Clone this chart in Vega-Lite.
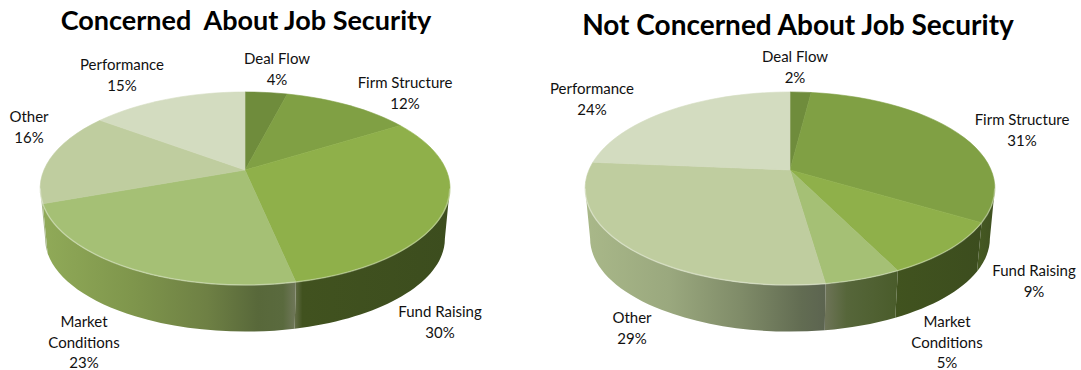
{
  "$schema": "https://vega.github.io/schema/vega-lite/v6.json",
  "width": 1081,
  "height": 370,
  "padding": 0,
  "autosize": {"type": "none"},
  "background": "white",
  "config": {"view": {"stroke": null}},
  "data": {"values": [
    {"view": "Concerned\u00a0 About Job Security", "category": "Deal Flow", "order": 1, "value": 4},
    {"view": "Concerned\u00a0 About Job Security", "category": "Firm Structure", "order": 2, "value": 12},
    {"view": "Concerned\u00a0 About Job Security", "category": "Fund Raising", "order": 3, "value": 30},
    {"view": "Concerned\u00a0 About Job Security", "category": "Market Conditions", "order": 4, "value": 23},
    {"view": "Concerned\u00a0 About Job Security", "category": "Other", "order": 5, "value": 16},
    {"view": "Concerned\u00a0 About Job Security", "category": "Performance", "order": 6, "value": 15},
    {"view": "Not Concerned About Job Security", "category": "Deal Flow", "order": 1, "value": 2},
    {"view": "Not Concerned About Job Security", "category": "Firm Structure", "order": 2, "value": 31},
    {"view": "Not Concerned About Job Security", "category": "Fund Raising", "order": 3, "value": 9},
    {"view": "Not Concerned About Job Security", "category": "Market Conditions", "order": 4, "value": 5},
    {"view": "Not Concerned About Job Security", "category": "Other", "order": 5, "value": 29},
    {"view": "Not Concerned About Job Security", "category": "Performance", "order": 6, "value": 24}
  ]},
  "transform": [
    {"window": [{"op": "sum", "field": "value", "as": "cum"}], "groupby": ["view"], "sort": [{"field": "order"}]},
    {"calculate": "slice(datum.view, 0, 3) + ':' + datum.category", "as": "key"},
    {"calculate": "replace(datum.category, 'Market ', 'Market\\n') + '\\n' + datum.value + '%'", "as": "label"},
    {"calculate": "(datum.cum - datum.value) * PI / 50", "as": "a0"},
    {"calculate": "datum.cum * PI / 50", "as": "a1"},
    {"calculate": "datum.a0 + 0.045 * pow(sin(datum.a0 / 2), 2)", "as": "t0"},
    {"calculate": "datum.a1 + 0.045 * pow(sin(datum.a1 / 2), 2)", "as": "t1"},
    {"calculate": "round(20100 * sin(datum.t0) / (1 + 0.192 * cos(datum.t0))) / 100 + ',' + round(-9300 * cos(datum.t0) / (1 + 0.192 * cos(datum.t0))) / 100", "as": "p0"},
    {"calculate": "round(20100 * sin(datum.t1) / (1 + 0.192 * cos(datum.t1))) / 100 + ',' + round(-9300 * cos(datum.t1) / (1 + 0.192 * cos(datum.t1))) / 100", "as": "p1"},
    {"calculate": "'M0,0L' + datum.p0 + 'A205,96.5 0 0 1 ' + datum.p1 + 'Z'", "as": "wedge"},
    {"calculate": "max(datum.t0, 1.7637)", "as": "fa"},
    {"calculate": "min(datum.t1, 4.5195)", "as": "fb"},
    {"calculate": "round(20100 * sin(datum.fa) / (1 + 0.192 * cos(datum.fa))) / 100", "as": "ax"},
    {"calculate": "round(-9300 * cos(datum.fa) / (1 + 0.192 * cos(datum.fa))) / 100", "as": "ay"},
    {"calculate": "round(20100 * sin(datum.fb) / (1 + 0.192 * cos(datum.fb))) / 100", "as": "bx"},
    {"calculate": "round(-9300 * cos(datum.fb) / (1 + 0.192 * cos(datum.fb))) / 100", "as": "by"},
    {"calculate": "'M' + datum.ax + ',' + datum.ay + 'A205,96.5 0 0 1 ' + datum.bx + ',' + datum.by", "as": "rim"},
    {"calculate": "datum.rim + 'L' + round(97.6 * datum.bx) / 100 + ',' + round(6850 + 96.4 * (datum.by - 18.5)) / 100 + 'A200,93 0 0 0 ' + round(97.6 * datum.ax) / 100 + ',' + round(6850 + 96.4 * (datum.ay - 18.5)) / 100 + 'Z'", "as": "wall"}
  ],
  "encoding": {
    "x": {"field": "view", "type": "nominal", "axis": null,
      "scale": {"domain": ["Concerned\u00a0 About Job Security", "Not Concerned About Job Security"], "range": [245, 790], "padding": 0}},
    "y": {"datum": 0, "type": "quantitative", "axis": null,
      "scale": {"domain": [-170, 200], "range": [0, 370], "nice": false, "zero": false}}
  },
  "layer": [
    {
      "transform": [{"filter": "datum.fb > datum.fa"}],
      "encoding": {"shape": {"field": "wall", "type": "nominal", "scale": null, "legend": null}},
      "layer": [
        {"transform": [{"filter": "datum.key == 'Con:Fund Raising'"}],
         "mark": {"type": "point", "filled": true, "opacity": 1, "size": 4, "strokeWidth": 0,
           "fill": {"gradient": "linear", "x1": 0, "y1": 0, "x2": 1, "y2": 0, "stops": [{"offset": 0, "color": "#646e48"}, {"offset": 0.05, "color": "#41521f"}, {"offset": 1, "color": "#3c4d1e"}]}}},
        {"transform": [{"filter": "datum.key == 'Con:Market Conditions'"}],
         "mark": {"type": "point", "filled": true, "opacity": 1, "size": 4, "strokeWidth": 0,
           "fill": {"gradient": "linear", "x1": 0, "y1": 0, "x2": 1, "y2": 0, "stops": [{"offset": 0, "color": "#90aa58"}, {"offset": 0.35, "color": "#7f964c"}, {"offset": 0.65, "color": "#6e8044"}, {"offset": 0.85, "color": "#58683a"}, {"offset": 0.95, "color": "#5a6a3e"}, {"offset": 1, "color": "#70775a"}]}}},
        {"transform": [{"filter": "datum.key == 'Con:Other'"}],
         "mark": {"type": "point", "filled": true, "opacity": 1, "size": 4, "strokeWidth": 0, "fill": "#a9b98c"}},
        {"transform": [{"filter": "datum.key == 'Not:Firm Structure'"}],
         "mark": {"type": "point", "filled": true, "opacity": 1, "size": 4, "strokeWidth": 0,
           "fill": {"gradient": "linear", "x1": 0, "y1": 0, "x2": 1, "y2": 0, "stops": [{"offset": 0, "color": "#465a22"}, {"offset": 1, "color": "#3f5020"}]}}},
        {"transform": [{"filter": "datum.key == 'Not:Fund Raising'"}],
         "mark": {"type": "point", "filled": true, "opacity": 1, "size": 4, "strokeWidth": 0,
           "fill": {"gradient": "linear", "x1": 0, "y1": 0, "x2": 1, "y2": 0, "stops": [{"offset": 0, "color": "#41531f"}, {"offset": 1, "color": "#3c4d1e"}]}}},
        {"transform": [{"filter": "datum.key == 'Not:Market Conditions'"}],
         "mark": {"type": "point", "filled": true, "opacity": 1, "size": 4, "strokeWidth": 0,
           "fill": {"gradient": "linear", "x1": 0, "y1": 0, "x2": 1, "y2": 0, "stops": [{"offset": 0, "color": "#6e7458"}, {"offset": 0.3, "color": "#56663a"}, {"offset": 1, "color": "#4a5c2b"}]}}},
        {"transform": [{"filter": "datum.key == 'Not:Other'"}],
         "mark": {"type": "point", "filled": true, "opacity": 1, "size": 4, "strokeWidth": 0,
           "fill": {"gradient": "linear", "x1": 0, "y1": 0, "x2": 1, "y2": 0, "stops": [{"offset": 0, "color": "#a9b889"}, {"offset": 0.35, "color": "#9aa87e"}, {"offset": 0.65, "color": "#7f8b68"}, {"offset": 0.9, "color": "#626c52"}, {"offset": 1, "color": "#5c6450"}]}}}
      ]
    },
    {
      "mark": {"type": "point", "filled": true, "opacity": 1, "size": 4, "strokeWidth": 0.6},
      "encoding": {
        "shape": {"field": "wedge", "type": "nominal", "scale": null, "legend": null},
        "fill": {"field": "category", "type": "nominal", "legend": null, "scale": {
          "domain": ["Deal Flow", "Firm Structure", "Fund Raising", "Market Conditions", "Other", "Performance"],
          "range": ["#6f8c3c", "#80a044", "#8fb04a", "#a5c075", "#bfcd9f", "#d3dcc0"]}},
        "stroke": {"field": "category", "type": "nominal", "legend": null, "scale": {
          "domain": ["Deal Flow", "Firm Structure", "Fund Raising", "Market Conditions", "Other", "Performance"],
          "range": ["#6f8c3c", "#80a044", "#8fb04a", "#a5c075", "#bfcd9f", "#d3dcc0"]}}
      }
    },
    {
      "transform": [{"filter": "datum.fb > datum.fa"}],
      "mark": {"type": "point", "filled": false, "opacity": 0.3, "size": 4, "strokeWidth": 1.5, "stroke": "white"},
      "encoding": {"shape": {"field": "rim", "type": "nominal", "scale": null, "legend": null}}
    },
    {
      "transform": [{"filter": "datum.key == 'Con:Deal Flow'"}],
      "mark": {"type": "text", "font": "Lato", "fontSize": 27, "fontWeight": "bold", "color": "#000000", "dx": 1, "dy": -148},
      "encoding": {"text": {"field": "view", "type": "nominal"}}
    },
    {
      "transform": [{"filter": "datum.key == 'Not:Deal Flow'"}],
      "mark": {"type": "text", "font": "Lato", "fontSize": 28, "fontWeight": "bold", "color": "#000000", "dx": 8, "dy": -143},
      "encoding": {"text": {"field": "view", "type": "nominal"}}
    },
    {
      "encoding": {"text": {"field": "label", "type": "nominal"}},
      "layer": [
        {"transform": [{"filter": "datum.key == 'Con:Deal Flow'"}], "mark": {"type": "text", "font": "Lato", "fontSize": 15, "color": "#111111", "lineBreak": "\n", "lineHeight": 20.7, "dx": 32, "dy": -111}},
        {"transform": [{"filter": "datum.key == 'Con:Firm Structure'"}], "mark": {"type": "text", "font": "Lato", "fontSize": 15, "color": "#111111", "lineBreak": "\n", "lineHeight": 20.7, "dx": 160, "dy": -87}},
        {"transform": [{"filter": "datum.key == 'Con:Fund Raising'"}], "mark": {"type": "text", "font": "Lato", "fontSize": 15, "color": "#111111", "lineBreak": "\n", "lineHeight": 20.7, "dx": 195, "dy": 142}},
        {"transform": [{"filter": "datum.key == 'Con:Market Conditions'"}], "mark": {"type": "text", "font": "Lato", "fontSize": 15, "color": "#111111", "lineBreak": "\n", "lineHeight": 20.7, "dx": -161, "dy": 152}},
        {"transform": [{"filter": "datum.key == 'Con:Other'"}], "mark": {"type": "text", "font": "Lato", "fontSize": 15, "color": "#111111", "lineBreak": "\n", "lineHeight": 20.7, "dx": -216, "dy": -53}},
        {"transform": [{"filter": "datum.key == 'Con:Performance'"}], "mark": {"type": "text", "font": "Lato", "fontSize": 15, "color": "#111111", "lineBreak": "\n", "lineHeight": 20.7, "dx": -123, "dy": -105}},
        {"transform": [{"filter": "datum.key == 'Not:Deal Flow'"}], "mark": {"type": "text", "font": "Lato", "fontSize": 15, "color": "#111111", "lineBreak": "\n", "lineHeight": 20.7, "dx": 5, "dy": -113}},
        {"transform": [{"filter": "datum.key == 'Not:Firm Structure'"}], "mark": {"type": "text", "font": "Lato", "fontSize": 15, "color": "#111111", "lineBreak": "\n", "lineHeight": 20.7, "dx": 232, "dy": -50}},
        {"transform": [{"filter": "datum.key == 'Not:Fund Raising'"}], "mark": {"type": "text", "font": "Lato", "fontSize": 15, "color": "#111111", "lineBreak": "\n", "lineHeight": 20.7, "dx": 244, "dy": 101}},
        {"transform": [{"filter": "datum.key == 'Not:Market Conditions'"}], "mark": {"type": "text", "font": "Lato", "fontSize": 15, "color": "#111111", "lineBreak": "\n", "lineHeight": 20.7, "dx": 157, "dy": 152}},
        {"transform": [{"filter": "datum.key == 'Not:Other'"}], "mark": {"type": "text", "font": "Lato", "fontSize": 15, "color": "#111111", "lineBreak": "\n", "lineHeight": 20.7, "dx": -158, "dy": 148}},
        {"transform": [{"filter": "datum.key == 'Not:Performance'"}], "mark": {"type": "text", "font": "Lato", "fontSize": 15, "color": "#111111", "lineBreak": "\n", "lineHeight": 20.7, "dx": -198, "dy": -81}}
      ]
    }
  ]
}
